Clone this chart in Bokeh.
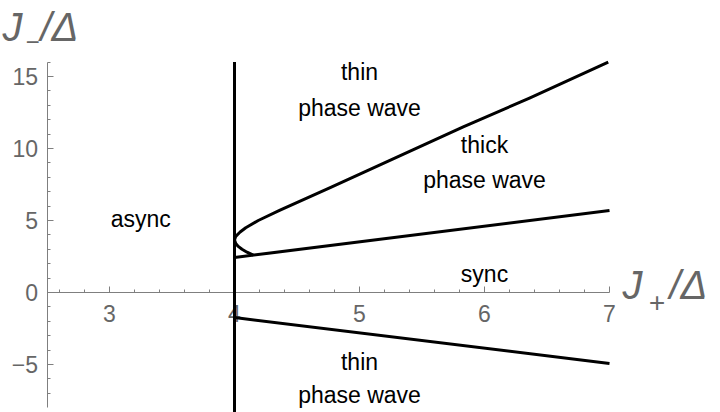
from bokeh.plotting import figure
from bokeh.models import LinearAxis, Range1d, FixedTicker, ColumnDataSource, Label
from bokeh.core.properties import value
from bokeh.embed import file_html
from bokeh.resources import INLINE
import numpy as np

# ---- data ----
# boundary curve (nose at J+/Δ = 4)
curve_jp = [4.15, 4.10, 4.06, 4.03, 4.01, 4.00, 4.01, 4.045, 4.09, 4.19, 4.36, 4.77, 5.30, 5.83, 6.36, 6.99]
curve_jm = [2.59, 2.80, 3.00, 3.20, 3.40, 3.65, 3.90, 4.20, 4.50, 5.00, 5.70, 7.30, 9.40, 11.50, 13.50, 16.00]
# sync / thick-phase-wave boundary
mid_jp = [4.0, 7.0]
mid_jm = [2.43, 5.69]
# lower boundary
low_jp = [4.0, 7.0]
low_jm = [-1.74, -4.93]
# vertical boundary
vert_jp = [4.0, 4.0]
vert_jm = [-8.5, 16.0]

region_text = ["thin", "phase wave", "thick", "phase wave", "async", "sync", "thin", "phase wave"]
region_x = [5.0, 5.0, 6.0, 6.0, 3.25, 6.0, 5.0, 5.0]
region_y = [15.32, 12.79, 10.25, 7.82, 5.11, 1.29, -4.82, -7.11]

x_ticks = [3, 4, 5, 6, 7]
y_ticks = [-5, 0, 5, 10, 15]
y_tick_labels = {-5: "\u22125", 0: "0", 5: "5", 10: "10", 15: "15"}

x_minor = [round(v, 1) for v in np.arange(2.6, 7.0, 0.2) if abs(v - round(v)) > 1e-6]
y_minor = [v for v in range(-7, 17) if v % 5 != 0]

GRAY = "#7f7f7f"
LABEL = "#666666"
FONT = "Liberation Sans"

p = figure(width=720, height=412,
           x_range=Range1d(2.128, 7.888), y_range=Range1d(-8.333, 20.278),
           output_backend="svg", toolbar_location=None,
           x_axis_type=None, y_axis_type=None,
           min_border=0, min_border_left=0, min_border_right=0,
           min_border_top=0, min_border_bottom=0)
p.outline_line_color = None
p.xgrid.visible = False
p.ygrid.visible = False

common = dict(axis_line_color=GRAY, axis_line_width=1,
              major_tick_line_color=GRAY, minor_tick_line_color=GRAY,
              major_tick_out=0, minor_tick_out=0,
              major_tick_in=6, minor_tick_in=3,
              major_label_text_color=LABEL,
              major_label_text_font=FONT,
              major_label_text_font_size="23px",
              level="underlay")

xaxis = LinearAxis(fixed_location=0, bounds=(2.5, 7.0),
                   ticker=FixedTicker(ticks=x_ticks, minor_ticks=x_minor),
                   major_label_standoff=12, **common)
yaxis = LinearAxis(fixed_location=2.5, bounds=(-8.0, 16.0),
                   ticker=FixedTicker(ticks=y_ticks, minor_ticks=y_minor),
                   major_label_overrides=y_tick_labels,
                   major_label_standoff=9, **common)
p.add_layout(xaxis, "below")
p.add_layout(yaxis, "left")

lw = 3
p.line(vert_jp, vert_jm, line_color="black", line_width=lw)
p.line(curve_jp, curve_jm, line_color="black", line_width=lw, line_join="round")
p.line(mid_jp, mid_jm, line_color="black", line_width=lw)
p.line(low_jp, low_jm, line_color="black", line_width=lw)

src = ColumnDataSource(dict(x=region_x, y=region_y, t=region_text))
p.text(x="x", y="y", text="t", source=src, text_align="center",
       text_baseline="alphabetic", text_color="black",
       text_font=value(FONT), text_font_size="23px")

# axis labels
AX = dict(x_units="screen", y_units="screen", text_color=LABEL,
          text_font=FONT, text_font_style="italic", text_baseline="alphabetic")
p.add_layout(Label(x=2, y=386, text="J", text_font_size="40px", **AX))
p.add_layout(Label(x=25, y=371, text="\u2212", text_font_size="24px", **AX))
p.add_layout(Label(x=40, y=386, text="/\u0394", text_font_size="40px", **AX))

p.add_layout(Label(x=622, y=128, text="J", text_font_size="40px", **AX))
p.add_layout(Label(x=648, y=110, text="+", text_font_size="28px", **AX))
p.add_layout(Label(x=669, y=128, text="/\u0394", text_font_size="40px", **AX))

open("out.html", "w").write(file_html(p, INLINE))
